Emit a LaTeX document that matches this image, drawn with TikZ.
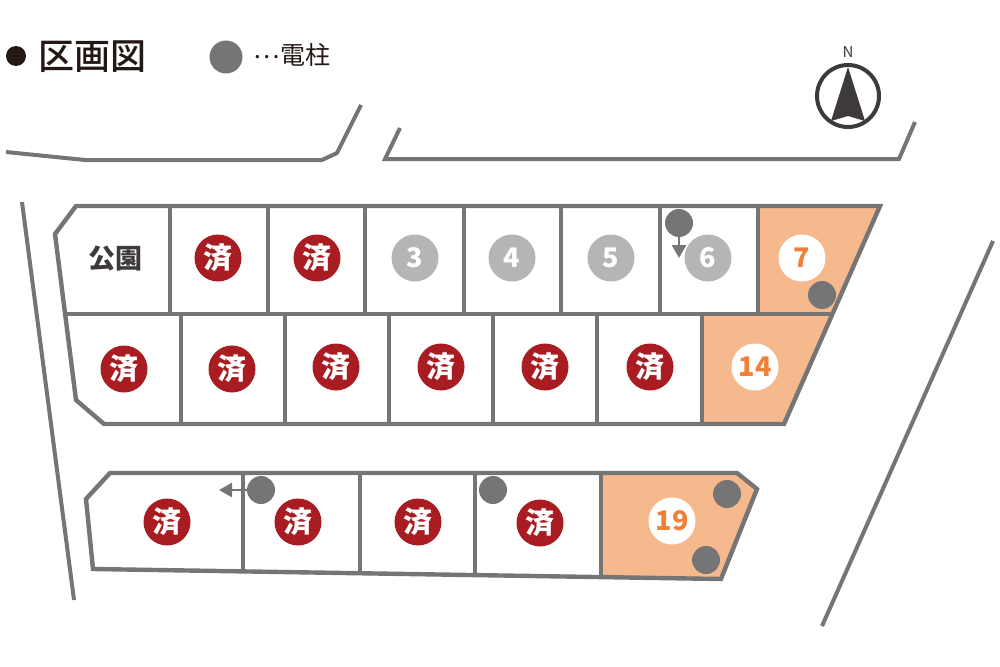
\documentclass[tikz,border=0pt]{standalone}
\usepackage{fontspec}
\setmainfont{Noto Sans CJK JP}
\newfontfamily\medfont{Noto Sans CJK JP Medium}
\usetikzlibrary{arrows.meta}
\definecolor{roadgray}{HTML}{757575}
\definecolor{soldred}{HTML}{A81C22}
\definecolor{freegray}{HTML}{B5B5B5}
\definecolor{lotorange}{HTML}{F6B98D}
\definecolor{numorange}{HTML}{EF8138}
\definecolor{inkdark}{HTML}{231815}
\definecolor{compassdark}{HTML}{3E3A39}

\tikzset{
   road/.style={draw=roadgray,line width=4pt,miter limit=20},
   lotline/.style={draw=roadgray,line width=4.4pt,line join=miter,miter limit=20},
   sold/.style={circle,fill=soldred,text=white,minimum size=47pt,inner sep=0pt,font=\bfseries\fontsize{29}{29}\selectfont},
   free/.style={circle,fill=freegray,text=white,minimum size=47pt,inner sep=0pt,font=\bfseries\fontsize{27}{27}\selectfont},
   open/.style={circle,fill=white,text=numorange,minimum size=47pt,inner sep=0pt,font=\bfseries\fontsize{27}{27}\selectfont},
   pole/.style={circle,fill=roadgray,minimum size=28pt,inner sep=0pt},
   polearrow/.style={draw=roadgray,line width=2.6pt,-{Triangle[length=13pt,width=14pt]}}
}

\begin{document}
\begin{tikzpicture}[x=1pt,y=-1pt]
\useasboundingbox (0,0) rectangle (1000,666);

% heading
\node[circle,fill=inkdark,minimum size=20pt,inner sep=0pt] (bullet) at (16,56) {};
\node[text=inkdark,font=\medfont\fontsize{36}{36}\selectfont] (title) at (92,57) {区画図};
\node[pole,minimum size=33pt] (legendpole) at (226,57) {};
\node[text=inkdark,font=\fontsize{25}{25}\selectfont] (legendtext) at (292,55) {\raisebox{6pt}{…}電柱};

% north mark
\node[text=compassdark,font=\fontsize{15}{15}\selectfont] (north) at (848,52) {N};
\node[circle,draw=compassdark,line width=4pt,minimum size=62pt,inner sep=0pt] (compass) at (848,96) {};
\fill[compassdark] (848,67) -- (865,121) -- (848,116) -- (831,121) -- cycle;

% roads
\draw[road] (6,152) -- (85,160) -- (322,160) -- (337,153) -- (361,105);
\draw[road] (400,128) -- (385,159) -- (899,159) -- (915,122);
\draw[road] (22,202) -- (74,600);
\draw[road] (993,241) -- (822,626);

% lots on sale
\fill[lotorange] (758,206) -- (880,206) -- (832,314) -- (758,314) -- cycle;
\fill[lotorange] (702,314) -- (832,314) -- (784,424) -- (702,424) -- cycle;
\fill[lotorange] (601,473) -- (737,473) -- (757,489) -- (721,579) -- (601,577) -- cycle;

% upper block
\draw[lotline] (76,206) -- (880,206) -- (784,424) -- (104,424) -- (76,400) -- (55,234) -- cycle;
\draw[lotline] (65,314) -- (832,314);
\foreach \x in {170,268,365,464,561,660,758}
   \draw[lotline] (\x,206) -- (\x,314);
\foreach \x in {181,285,389,493,597,702}
   \draw[lotline] (\x,314) -- (\x,424);

% lower block
\draw[lotline] (110,473) -- (737,473) -- (757,489) -- (721,579) -- (93,569) -- (86,499) -- cycle;
\draw[lotline] (243,473) -- (243,571);
\draw[lotline] (360,473) -- (360,573);
\draw[lotline] (475,473) -- (475,575);
\draw[lotline] (601,473) -- (601,577);

% lot labels
\node[font=\bfseries\fontsize{27}{27}\selectfont,text=compassdark] (park) at (115,259) {公園};
\foreach \n/\x/\y in {a/218/258,b/317/258,c/124/369,d/232/369,e/336/367,f/441/367,g/545/367,h/650/367,i/167/522,j/298/522,k/418/522,l/540/523}
   \node[sold] (sold\n) at (\x,\y) {済};
\foreach \n/\x in {3/415,4/512,5/611,6/708}
   \node[free] (lot\n) at (\x,258) {\n};
\node[open] (lot7) at (802,258) {7};
\node[open] (lot14) at (755,367) {14};
\node[open] (lot19) at (672,521) {19};

% poles
\node[pole] (polea) at (679,223) {};
\node[pole] (poleb) at (822,295) {};
\node[pole] (polec) at (261,490) {};
\node[pole] (poled) at (493,490) {};
\node[pole] (polee) at (727,494) {};
\node[pole] (polef) at (706,560) {};
\coordinate (polea end) at (679,258);
\coordinate (polec end) at (219,490);
\draw[polearrow] (polea) -- (polea end);
\draw[polearrow] (polec) -- (polec end);
\end{tikzpicture}
\end{document}
